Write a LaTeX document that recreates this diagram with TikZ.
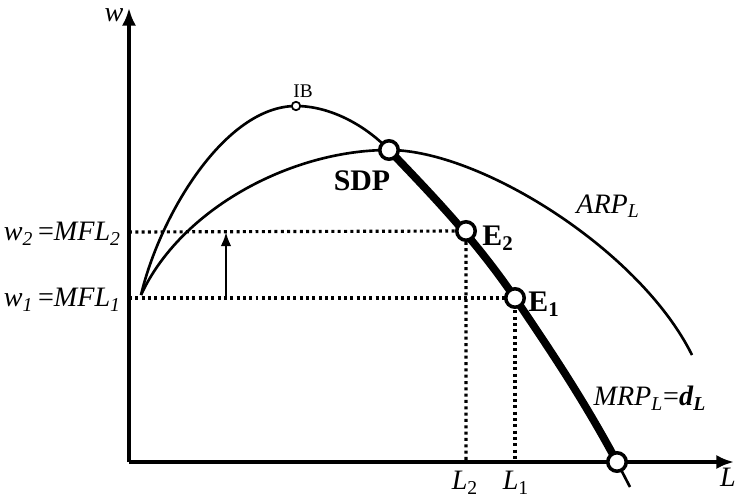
\documentclass[tikz,border=0pt]{standalone}
\usepackage{fontspec}
\setmainfont{Liberation Serif}
\usetikzlibrary{arrows.meta,positioning,calc}

\tikzset{
  axis/.style={line width=2pt,-{Latex[length=10pt,width=8pt]}},
  curve/.style={line width=1.5pt},
  mrpthick/.style={line width=4.4pt},
  guide/.style={line width=1.8pt,dash pattern=on 1.7pt off 1.9pt},
  opendot/.style={circle,draw,fill=white,line width=2pt,inner sep=0pt,minimum size=10.5pt},
  smalldot/.style={circle,draw,fill=white,line width=1pt,inner sep=0pt,minimum size=4.8pt},
  lab/.style={font=\fontsize{16}{18}\selectfont,inner sep=1pt}
}

\begin{document}
\begin{tikzpicture}[x=0.02cm,y=-0.02cm]
  \useasboundingbox (0,0) rectangle (737,500);
  \coordinate (O) at (129,462);
  \coordinate (start) at (141,295);
  \coordinate (IB) at (296,106);
  \coordinate (SDP) at (389,150);
  \coordinate (E2) at (466,231);
  \coordinate (E1) at (515,298);
  \coordinate (D) at (617,462);
  \coordinate (w1) at (129,298);
  \coordinate (w2) at (129,232);

  \draw[axis] (O) -- (129,8) coordinate (ytip);
  \draw[axis] (O) -- (734,462) coordinate (xtip);

  \draw[guide] (w2) -- (E2) -- (E2 |- O);
  \draw[guide] (w1) -- (E1) -- (E1 |- O);
  \draw[line width=1.4pt,-{Latex[length=8pt,width=6pt]}] (226,298) coordinate (a1) -- (226,232) coordinate (a2);

  \draw[curve] (start) .. controls (180,210) and (290,150) .. (SDP)
    .. controls (480,150) and (640,250) .. (692,355) coordinate (ARPend);
  \draw[curve] (start) .. controls (160,215) and (225,106) .. (IB)
    .. controls (330,106) and (365,125) .. (SDP);
  \draw[curve] (D) -- (630,487) coordinate (MRPend);
  \draw[mrpthick] (SDP) .. controls (429,192) and (475,239) .. (E1)
    .. controls (550,350) and (582,397) .. (D);

  \foreach \p in {SDP,E2,E1,D} \node[opendot] at (\p) {};
  \node[smalldot] at (IB) {};

  \node[lab] (wlab) at (114,15) {\textit{w}};
  \node[lab] (Llab) at (728,477) {\textit{L}};
  \node[lab] (L2lab) at (465,483) {\textit{L}\textsubscript{2}};
  \node[lab] (L1lab) at (516,483) {\textit{L}\textsubscript{1}};
  \node[lab,anchor=east] (w2lab) at (123,234) {\textit{w}\textsubscript{\textit{2}}\,=\textit{MFL}\textsubscript{\textit{2}}};
  \node[lab,anchor=east] (w1lab) at (123,300) {\textit{w}\textsubscript{\textit{1}}\,=\textit{MFL}\textsubscript{\textit{1}}};
  \node[lab] (arplab) at (608,206) {\textit{ARP}\textsubscript{\textit{L}}};
  \node[lab] (mrplab) at (650,398) {\textit{MRP}\textsubscript{\textit{L}}=\textbf{\textit{d}}\textsubscript{\textbf{\textit{L}}}};
  \node[lab,font=\fontsize{17}{19}\selectfont\bfseries] (sdplab) at (362,181) {SDP};
  \node[lab,font=\fontsize{17}{19}\selectfont\bfseries] (e2lab) at (498,238) {E\textsubscript{2}};
  \node[lab,font=\fontsize{17}{19}\selectfont\bfseries] (e1lab) at (544,304) {E\textsubscript{1}};
  \node[font=\fontsize{11}{13}\selectfont] (iblab) at (303,91) {IB};
\end{tikzpicture}
\end{document}
